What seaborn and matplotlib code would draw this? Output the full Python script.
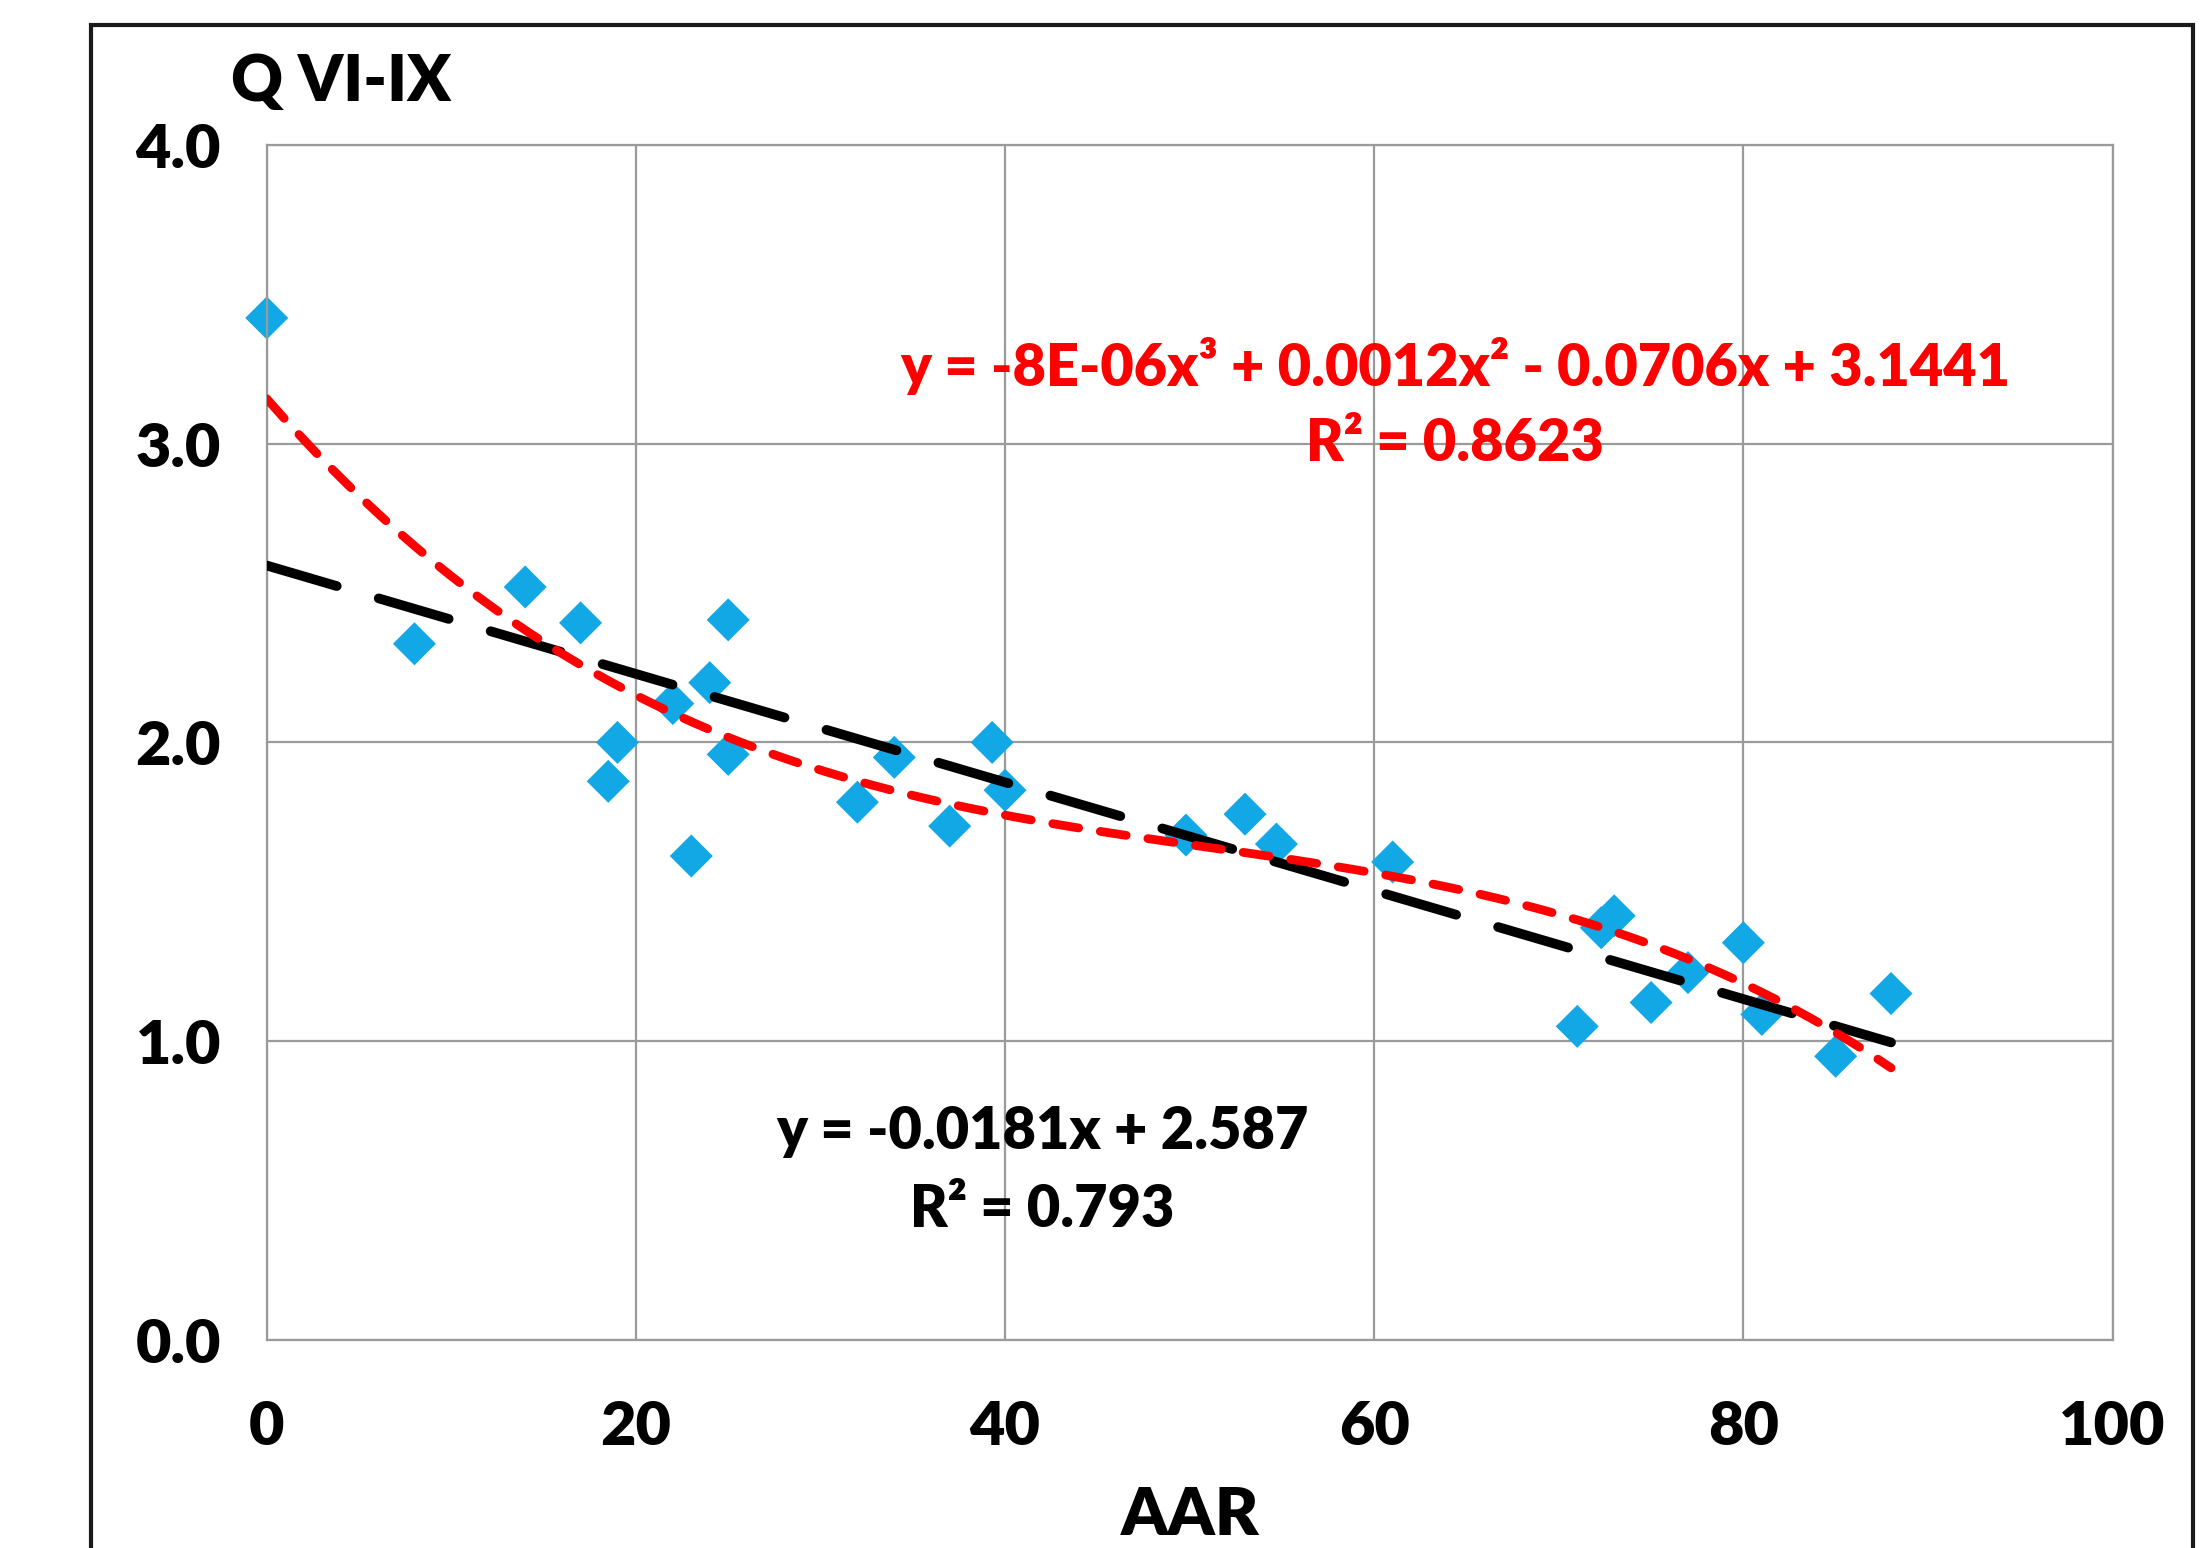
import numpy as np
import pandas as pd
import matplotlib
matplotlib.use("Agg")
import matplotlib.pyplot as plt
import seaborn as sns
from matplotlib.patches import Rectangle

# datos
aar = [0, 8, 14, 17, 18.5, 19, 22, 24, 23, 25, 25, 32, 34, 37, 39.3, 40,
       49.8, 53, 54.7, 61, 71, 72.3, 73, 75, 77, 80, 81, 85, 88]
q_vi_ix = [3.42, 2.33, 2.52, 2.40, 1.87, 2.00, 2.13, 2.20, 1.62, 2.41, 1.96,
           1.80, 1.95, 1.72, 2.00, 1.84, 1.69, 1.76, 1.66, 1.60, 1.05, 1.38,
           1.42, 1.13, 1.23, 1.33, 1.09, 0.95, 1.16]
eq_lineal = ["y = -0.0181x + 2.587", "R\u00b2 = 0.793"]
eq_cubica = ["y = -8E-06x\u00b3 + 0.0012x\u00b2 - 0.0706x + 3.1441", "R\u00b2 = 0.8623"]
x_ticks = [0, 20, 40, 60, 80, 100]
y_ticks = [0.0, 1.0, 2.0, 3.0, 4.0]

df = pd.DataFrame({"AAR": aar, "Q": q_vi_ix})

sns.set_style("white")
plt.rcParams["font.family"] = ["Lato", "DejaVu Sans"]
plt.rcParams["font.weight"] = "heavy"
plt.rcParams["text.color"] = "black"
plt.rcParams["xtick.color"] = "black"
plt.rcParams["ytick.color"] = "black"
PESO = "heavy"

fig = plt.figure(figsize=(22.01, 15.48), dpi=100)
ax = fig.add_axes([0.1212, 0.1342, 0.8386, 0.7724])

# marco exterior del grafico
fig.patches.append(Rectangle((0.0415, -0.05), 0.955, 1.0337, transform=fig.transFigure,
                             fill=False, edgecolor="#1a1a1a", linewidth=3, zorder=0))

# lineas de tendencia
sns.regplot(data=df, x="AAR", y="Q", ax=ax, scatter=False, ci=None, truncate=True,
            line_kws=dict(color="black", linewidth=7, dashes=(7.5, 4.5),
                          dash_capstyle="round", zorder=3))
sns.regplot(data=df, x="AAR", y="Q", ax=ax, scatter=False, ci=None, truncate=True, order=3,
            line_kws=dict(color="#ff0000", linewidth=6.3, dashes=(3.0, 2.5),
                          dash_capstyle="round", zorder=4))

sns.scatterplot(data=df, x="AAR", y="Q", ax=ax, marker="D", s=480, color="#12a8e6",
                edgecolor="none", linewidth=0, zorder=2, clip_on=False)

ax.set_xlim(0, 100)
ax.set_ylim(0, 4)
ax.set_xticks(x_ticks)
ax.set_yticks(y_ticks)
ax.set_yticklabels([f"{v:.1f}" for v in y_ticks])
ax.grid(True, color="#9a9a9a", linewidth=1.6)
ax.set_axisbelow(True)
for s in ax.spines.values():
    s.set_color("#9a9a9a")
    s.set_linewidth(1.6)
ax.tick_params(axis="both", which="both", direction="out", color="#9a9a9a",
               width=1.6, labelsize=44, labelcolor="black")
ax.tick_params(axis="x", length=10, pad=32)
ax.tick_params(axis="y", length=11, pad=22)
for lbl in ax.get_xticklabels() + ax.get_yticklabels():
    lbl.set_fontweight(PESO)
ax.set_xlabel("")
ax.set_ylabel("")

# ecuaciones
ax.text(64.4, 3.26, eq_cubica[0], color="#ff0000", fontsize=41.5, fontweight=PESO,
        ha="center", va="center")
ax.text(64.4, 3.0, eq_cubica[1], color="#ff0000", fontsize=41.5, fontweight=PESO,
        ha="center", va="center")
ax.text(42.0, 0.70, eq_lineal[0], color="black", fontsize=41.5, fontweight=PESO,
        ha="center", va="center")
ax.text(42.0, 0.437, eq_lineal[1], color="black", fontsize=41.5, fontweight=PESO,
        ha="center", va="center")

fig.text(0.105, 0.947, "Q VI-IX", fontsize=46, fontweight=PESO, ha="left", va="center")
fig.text(0.5408, 0.001, "AAR", fontsize=48, fontweight=PESO, ha="center", va="bottom")

fig.savefig("out.png", dpi=100, facecolor="white")
